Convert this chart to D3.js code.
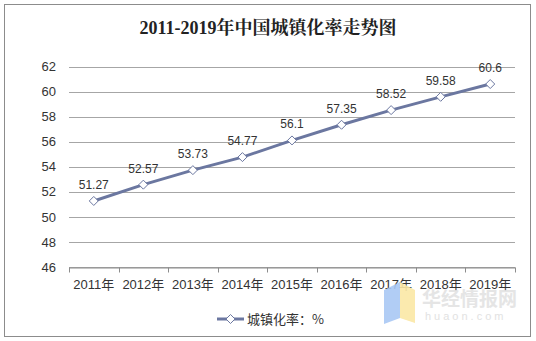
<!DOCTYPE html>
<html><head><meta charset="utf-8">
<script src="https://cdn.jsdelivr.net/npm/d3@7"></script>
<style>body{margin:0;background:#fff;}svg{display:block;}</style>
</head><body>
<svg id="c" width="536" height="341"></svg>
<script>
const categories = ["2011年","2012年","2013年","2014年","2015年","2016年","2017年","2018年","2019年"];
const values = [51.27,52.57,53.73,54.77,56.1,57.35,58.52,59.58,60.6];
const yTicks = [46,48,50,52,54,56,58,60,62];
const title = "2011-2019年中国城镇化率走势图";
const seriesName = "城镇化率：%";

const svg = d3.select("#c");
const W = 536, H = 341;
const m = {l:69, r:21, t:66.5, b:74};
svg.append("rect").attr("x",4.5).attr("y",4.5).attr("width",526).attr("height",332)
  .attr("fill","#fff").attr("stroke","#8c8c8c").attr("stroke-width",1);

svg.append("text").attr("x",268).attr("y",34).attr("text-anchor","middle")
  .attr("font-family","'Liberation Serif','DejaVu Serif','Noto Serif CJK SC',serif")
  .attr("font-weight","bold").attr("font-size",18).attr("fill","#222").text(title);

const x = d3.scaleBand().domain(categories).range([m.l, W-m.r]);
const y = d3.scaleLinear().domain([46,62]).range([H-m.b, m.t]);

// gridlines
svg.append("g").selectAll("line").data(yTicks).join("line")
  .attr("x1",m.l).attr("x2",W-m.r)
  .attr("y1",d=>Math.round(y(d))+0.5).attr("y2",d=>Math.round(y(d))+0.5)
  .attr("stroke","#a6a6a6").attr("stroke-width",1);

// y axis labels
const ya = svg.append("g").attr("transform",`translate(${m.l},0)`)
  .call(d3.axisLeft(y).tickValues(yTicks).tickSize(0).tickPadding(13));
ya.select(".domain").remove();
ya.selectAll("text").attr("font-family","Arial,'Liberation Sans',sans-serif").attr("font-size",13).attr("fill","#333");

// x axis
const xa = svg.append("g").attr("transform",`translate(0,${Math.round(H-m.b)+0.5})`)
  .call(d3.axisBottom(x).tickSizeOuter(0).tickSize(0).tickPadding(12));
xa.select(".domain").attr("stroke","#8c8c8c");
xa.selectAll("text").attr("font-family","Arial,'Liberation Sans','Noto Sans CJK SC',sans-serif").attr("font-size",13).attr("fill","#333");
// category boundary ticks
const bounds = categories.map(c=>x(c)).concat([x(categories[categories.length-1])+x.bandwidth()]);
svg.append("g").selectAll("line").data(bounds).join("line")
  .attr("x1",d=>Math.round(d)+0.5).attr("x2",d=>Math.round(d)+0.5)
  .attr("y1",Math.round(H-m.b)+0.5).attr("y2",Math.round(H-m.b)+5.5)
  .attr("stroke","#8c8c8c");

// watermark
const wm = svg.append("g").attr("opacity",0.9);
wm.append("path").attr("d","M384,290 L400,282 L400,318 L384,324 Z").attr("fill","#a9c8f5");
wm.append("path").attr("d","M400,282 L415,290 L415,323 L400,318 Z").attr("fill","#fbe8a6");
wm.append("text").attr("x",422).attr("y",306).attr("font-family","'Noto Sans CJK SC',sans-serif")
  .attr("font-size",19).attr("font-weight","bold").attr("fill","#e3e3e3").text("华经情报网");
wm.append("text").attr("x",425).attr("y",320).attr("font-family","Arial,sans-serif")
  .attr("font-size",11).attr("letter-spacing",3).attr("fill","#e0e0e0").text("huaon.com");

const color = "#6b77a0";
const cx = d=>x(d)+x.bandwidth()/2;
const line = d3.line().x((d,i)=>cx(categories[i])).y(d=>y(d));
svg.append("path").datum(values).attr("d",line).attr("fill","none")
  .attr("stroke",color).attr("stroke-width",3);

const diamond = s=>`M0,${-s} L${s},0 L0,${s} L${-s},0 Z`;
svg.append("g").selectAll("path").data(values).join("path")
  .attr("transform",(d,i)=>`translate(${cx(categories[i])},${y(d)})`)
  .attr("d",diamond(4.5)).attr("fill","#fff").attr("stroke",color).attr("stroke-width",1);

svg.append("g").selectAll("text").data(values).join("text")
  .attr("x",(d,i)=>cx(categories[i])).attr("y",d=>y(d)-12)
  .attr("text-anchor","middle").attr("font-family","Arial,'Liberation Sans',sans-serif")
  .attr("font-size",12).attr("fill","#333").text(d=>d);

// legend
const lg = svg.append("g").attr("transform","translate(217,319)");
lg.append("line").attr("x1",0).attr("x2",27).attr("stroke",color).attr("stroke-width",3);
lg.append("path").attr("transform","translate(13.5,0)").attr("d",diamond(4.5)).attr("fill","#fff").attr("stroke",color);
lg.append("text").attr("x",30).attr("y",5).attr("font-family","'Noto Sans CJK SC',sans-serif")
  .attr("font-size",13).attr("fill","#333").text(seriesName);
</script>
</body></html>
